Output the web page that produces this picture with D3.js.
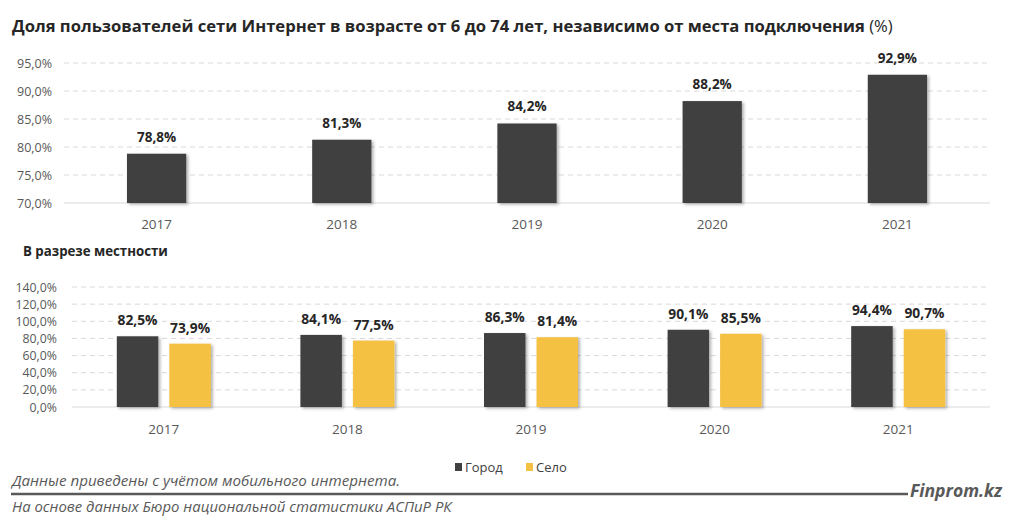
<!DOCTYPE html>
<html><head><meta charset="utf-8">
<script src="https://cdn.jsdelivr.net/npm/d3@7"></script>
<style>
html,body{margin:0;padding:0;background:#fff;}
svg{display:block;font-family:"Open Sans","Noto Sans",sans-serif;}
</style></head>
<body>
<svg id="c" width="1024" height="529"></svg>
<script>
// ---- data ----
const years = ["2017","2018","2019","2020","2021"];
const totalValues = [78.8, 81.3, 84.2, 88.2, 92.9];
const cityValues = [82.5, 84.1, 86.3, 90.1, 94.4];
const villageValues = [73.9, 77.5, 81.4, 85.5, 90.7];
const seriesNames = ["Город","Село"];
const topTicks = [70,75,80,85,90,95];
const bottomTicks = [0,20,40,60,80,100,120,140];
const titleText = "Доля пользователей сети Интернет в возрасте от 6 до 74 лет, независимо от места подключения";
const titleSuffix = " (%)";
const subTitle = "В разрезе местности";
const note1 = "Данные приведены с учётом мобильного интернета.";
const note2 = "На основе данных Бюро национальной статистики АСПиР РК";
const brand = "Finprom.kz";

const DARK = "#404040", YELLOW = "#F4C142", GRID = "#d9d9d9", AXIS_TXT = "#595959";
const fmt = v => v.toFixed(1).replace(".", ",") + "%";

const svg = d3.select("#c");
const defs = svg.append("defs");
const f = defs.append("filter").attr("id","sh").attr("x","-20%").attr("y","-20%").attr("width","150%").attr("height","150%");
f.append("feDropShadow").attr("dx",2).attr("dy",1.5).attr("stdDeviation",1.5).attr("flood-color","#000").attr("flood-opacity",0.3);

function fitText(sel, target){
  const n = sel.node();
  let fs = parseFloat(sel.attr("font-size"));
  for (let i=0;i<3;i++){
    const w = n.getComputedTextLength();
    if (w>0) { fs = fs*target/w; sel.attr("font-size", fs); }
  }
}

// ---- title ----
const t = svg.append("text").attr("x",12).attr("y",32).attr("font-size",15)
  .attr("fill","#262626").attr("font-weight","bold");
t.append("tspan").text(titleText);
t.append("tspan").attr("font-weight","normal").text(titleSuffix);
fitText(t, 881);

// ---- top chart ----
const xTop = d3.scaleBand().domain(years).range([64, 990]).paddingInner(0.68).paddingOuter(0.34);
const yTop = d3.scaleLinear().domain([70, 95]).range([203, 63]);
const gTop = svg.append("g");
gTop.selectAll("line.grid").data(topTicks.filter(d=>d>70)).join("line")
  .attr("x1",64).attr("x2",990).attr("y1",d=>yTop(d)).attr("y2",d=>yTop(d))
  .attr("stroke",GRID).attr("stroke-dasharray","5,4");
gTop.append("line").attr("x1",64).attr("x2",990).attr("y1",yTop(70)).attr("y2",yTop(70)).attr("stroke",GRID);
gTop.selectAll("text.yl").data(topTicks).join("text")
  .attr("x",52).attr("y",d=>yTop(d)+4.5).attr("text-anchor","end")
  .attr("font-size",12.5).attr("fill",AXIS_TXT).text(d=>d.toFixed(1).replace(".",",")+"%");
gTop.selectAll("rect").data(totalValues).join("rect")
  .attr("x",(d,i)=>xTop(years[i])).attr("width",xTop.bandwidth())
  .attr("y",d=>yTop(d)).attr("height",d=>yTop(70)-yTop(d))
  .attr("fill",DARK).attr("filter","url(#sh)");
gTop.selectAll("text.vl").data(totalValues).join("text")
  .attr("x",(d,i)=>xTop(years[i])+xTop.bandwidth()/2).attr("y",d=>yTop(d)-12)
  .attr("text-anchor","middle").attr("font-size",13.5).attr("font-weight","bold").attr("fill","#262626")
  .text(fmt);
gTop.selectAll("text.xl").data(years).join("text")
  .attr("x",d=>xTop(d)+xTop.bandwidth()/2).attr("y",229)
  .attr("text-anchor","middle").attr("font-size",13.5).attr("fill",AXIS_TXT).text(d=>d);

// ---- subtitle ----
const st = svg.append("text").attr("x",23).attr("y",256).attr("font-size",13)
  .attr("font-weight","bold").attr("fill","#262626").text(subTitle);
fitText(st, 145);

// ---- bottom chart ----
const x0 = d3.scaleBand().domain(years).range([72, 990]);
const groupW = 94;
const x1 = d3.scaleBand().domain(seriesNames).range([0, groupW]).paddingInner(0.21);
const yB = d3.scaleLinear().domain([0, 140]).range([407, 287]);
const color = d3.scaleOrdinal().domain(seriesNames).range([DARK, YELLOW]);
const gB = svg.append("g");
gB.selectAll("line.grid").data(bottomTicks.filter(d=>d>0)).join("line")
  .attr("x1",72).attr("x2",990).attr("y1",d=>yB(d)).attr("y2",d=>yB(d))
  .attr("stroke",GRID).attr("stroke-dasharray","5,4");
gB.append("line").attr("x1",72).attr("x2",990).attr("y1",yB(0)).attr("y2",yB(0)).attr("stroke",GRID);
gB.selectAll("text.yl").data(bottomTicks).join("text")
  .attr("x",57).attr("y",d=>yB(d)+4.5).attr("text-anchor","end")
  .attr("font-size",12.3).attr("fill",AXIS_TXT).text(d=>d.toFixed(1).replace(".",",")+"%");
const rows = [];
years.forEach((yr,i)=>{
  rows.push({year:yr, s:seriesNames[0], v:cityValues[i]});
  rows.push({year:yr, s:seriesNames[1], v:villageValues[i]});
});
const bx = d => x0(d.year) + x0.bandwidth()/2 - groupW/2 + x1(d.s);
gB.selectAll("rect").data(rows).join("rect")
  .attr("x",bx).attr("width",x1.bandwidth())
  .attr("y",d=>yB(d.v)).attr("height",d=>yB(0)-yB(d.v))
  .attr("fill",d=>color(d.s)).attr("filter","url(#sh)");
gB.selectAll("text.vl").data(rows).join("text")
  .attr("x",d=>bx(d)+x1.bandwidth()/2).attr("y",d=>yB(d.v)-11)
  .attr("text-anchor","middle").attr("font-size",13.8).attr("font-weight","bold").attr("fill","#262626")
  .text(d=>fmt(d.v));
gB.selectAll("text.xl").data(years).join("text")
  .attr("x",d=>x0(d)+x0.bandwidth()/2).attr("y",434)
  .attr("text-anchor","middle").attr("font-size",13.5).attr("fill",AXIS_TXT).text(d=>d);

// ---- legend ----
const legX = [455, 526];
const lg = svg.append("g");
seriesNames.forEach((s,i)=>{
  lg.append("rect").attr("x",legX[i]).attr("y",463).attr("width",7).attr("height",8).attr("fill",color(s));
  lg.append("text").attr("x",legX[i]+10).attr("y",472).attr("font-size",13).attr("fill","#404040").text(s);
});

// ---- footer ----
const n1 = svg.append("text").attr("x",12).attr("y",486).attr("font-size",13.5).attr("font-style","italic")
  .attr("fill",AXIS_TXT).text(note1);
fitText(n1, 388);
svg.append("line").attr("x1",11).attr("x2",908).attr("y1",494).attr("y2",494).attr("stroke","#595959").attr("stroke-width",2.5);
const b = svg.append("text").attr("x",910).attr("y",497).attr("font-size",17).attr("font-style","italic")
  .attr("font-weight","bold").attr("fill","#595959").text(brand);
fitText(b, 92);
const n2 = svg.append("text").attr("x",12).attr("y",512).attr("font-size",13.5).attr("font-style","italic")
  .attr("fill",AXIS_TXT).text(note2);
fitText(n2, 440);
</script>
</body></html>
